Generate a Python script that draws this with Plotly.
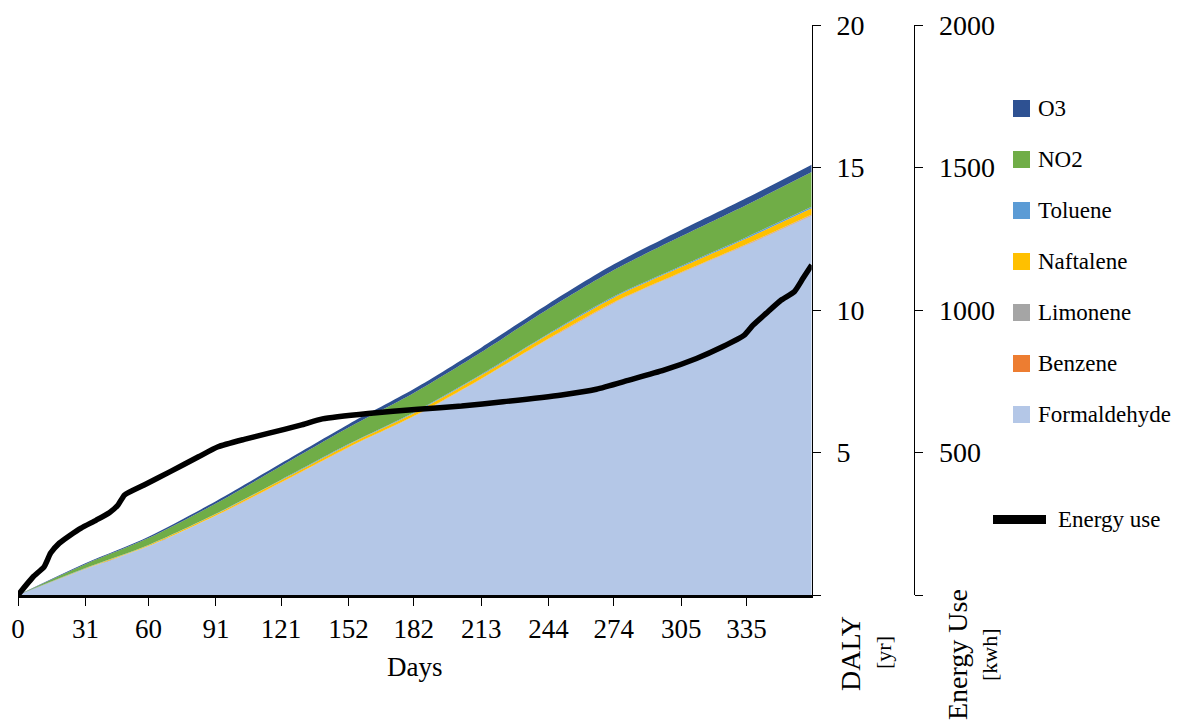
import plotly.graph_objects as go

# ---- data ----
days = [0, 31, 60, 91, 121, 152, 182, 213, 244, 274, 305, 335, 365]
formaldehyde = [0, 0.91, 1.71, 2.78, 3.94, 5.17, 6.26, 7.57, 8.98, 10.25, 11.30, 12.28, 13.32]
benzene = [0, 0.001, 0.002, 0.003, 0.004, 0.005, 0.006, 0.007, 0.008, 0.009, 0.010, 0.011, 0.012]
limonene = [0, 0.002, 0.004, 0.006, 0.008, 0.010, 0.011, 0.012, 0.013, 0.014, 0.015, 0.016, 0.017]
naftalene = [0, 0.02, 0.03, 0.05, 0.07, 0.09, 0.10, 0.12, 0.14, 0.16, 0.18, 0.20, 0.22]
toluene = [0, 0.01, 0.01, 0.01, 0.02, 0.02, 0.03, 0.03, 0.03, 0.04, 0.04, 0.05, 0.05]
no2 = [0, 0.14, 0.24, 0.36, 0.48, 0.58, 0.68, 0.78, 0.87, 0.93, 1.04, 1.13, 1.22]
o3 = [0, 0.03, 0.05, 0.08, 0.10, 0.12, 0.14, 0.16, 0.18, 0.20, 0.22, 0.24, 0.26]

energy_days = [0, 7, 12, 15, 19, 24, 29, 36, 42, 46, 49, 58, 70, 83, 92, 104, 115, 130,
               140, 161, 184, 204, 223, 250, 266, 281, 297, 312, 324, 334, 338, 344,
               351, 357, 361, 365]
energy = [0, 64, 99, 147, 182, 210, 235, 263, 289, 316, 351, 386, 433, 485, 520, 546, 567,
          596, 618, 637, 652, 663, 678, 702, 722, 754, 789, 830, 871, 912, 947, 988,
          1035, 1064, 1111, 1158]

x_ticks = [0, 31, 60, 91, 121, 152, 182, 213, 244, 274, 305, 335]
daly_ticks = [0, 5, 10, 15, 20]
daly_labels = ["", "5", "10", "15", "20"]
energy_ticks = [0, 500, 1000, 1500, 2000]
energy_labels = ["", "500", "1000", "1500", "2000"]

series = [
    ("Formaldehyde", formaldehyde, "#B4C7E7"),
    ("Benzene", benzene, "#ED7D31"),
    ("Limonene", limonene, "#A5A5A5"),
    ("Naftalene", naftalene, "#FFC000"),
    ("Toluene", toluene, "#5B9BD5"),
    ("NO2", no2, "#70AD47"),
    ("O3", o3, "#2E5192"),
]

FONT = "Liberation Serif, Times New Roman, serif"

# ---- layout geometry (pixels) ----
W, H = 1181, 726
ML, MR, MT, MB = 18, 18, 25, 131
PW = W - ML - MR
PH = H - MT - MB


def px_x(p):
    return (p - ML) / PW


def px_y(p):
    return (H - MB - p) / PH


fig = go.Figure()
for name, vals, col in series:
    fig.add_trace(go.Scatter(
        x=days, y=vals, name=name, mode="lines", stackgroup="one",
        line=dict(width=0, color=col, shape="spline", smoothing=0.8),
        fillcolor=col, hoverinfo="x+y+name",
    ))

fig.add_trace(go.Scatter(
    x=energy_days, y=energy, name="Energy use", mode="lines", yaxis="y2",
    line=dict(color="black", width=5.5, shape="spline", smoothing=0.5),
))

x_end = px_x(811.7)
fig.update_layout(
    width=W, height=H,
    margin=dict(l=ML, r=MR, t=MT, b=MB, autoexpand=False),
    paper_bgcolor="white", plot_bgcolor="rgba(0,0,0,0)",
    showlegend=False,
    font=dict(family=FONT, size=27, color="black"),
    xaxis=dict(
        domain=[0, x_end], range=[0, 365], tickvals=x_ticks, automargin=False,
        ticks="outside", ticklen=8, tickwidth=1.3, tickcolor="black",
        showline=True, linecolor="black", linewidth=2.5,
        showgrid=False, zeroline=False,
        tickfont=dict(family=FONT, size=27),
        title=dict(text="Days", font=dict(family=FONT, size=27), standoff=14),
    ),
    yaxis=dict(
        range=[0, 20], side="right", anchor="x", automargin=False,
        tickvals=daly_ticks, ticktext=daly_labels,
        ticks="outside", ticklen=8, tickwidth=1.3, tickcolor="black",
        showline=True, linecolor="black", linewidth=1.3,
        showgrid=False, zeroline=False,
        tickfont=dict(family=FONT, size=28), ticklabelstandoff=10,
    ),
    yaxis2=dict(
        range=[0, 2000], side="right", overlaying="y", anchor="free",
        position=px_x(914.3), automargin=False,
        tickvals=energy_ticks, ticktext=energy_labels,
        ticks="outside", ticklen=8, tickwidth=1.3, tickcolor="black",
        showline=True, linecolor="black", linewidth=1.3,
        showgrid=False, zeroline=False,
        tickfont=dict(family=FONT, size=28), ticklabelstandoff=10,
    ),
)

annotations = [
    dict(text="DALY", x=px_x(850), y=px_y(654), textangle=-90, font=dict(size=28)),
    dict(text="[yr]", x=px_x(883), y=px_y(653), textangle=-90, font=dict(size=22)),
    dict(text="Energy Use", x=px_x(958), y=px_y(655), textangle=-90, font=dict(size=28)),
    dict(text="[kwh]", x=px_x(990), y=px_y(655), textangle=-90, font=dict(size=22)),
]
shapes = []

legend_order = ["O3", "NO2", "Toluene", "Naftalene", "Limonene", "Benzene", "Formaldehyde"]
colors = {n: c for n, _, c in series}
for i, name in enumerate(legend_order):
    cy = 108.5 + 51 * i
    shapes.append(dict(type="rect", xref="paper", yref="paper",
                       x0=px_x(1013), x1=px_x(1030), y0=px_y(cy + 8.5), y1=px_y(cy - 8.5),
                       fillcolor=colors[name], line=dict(width=0)))
    annotations.append(dict(text=name, x=px_x(1036), y=px_y(cy), xanchor="left",
                            yanchor="middle", font=dict(size=23)))

shapes.append(dict(type="line", xref="paper", yref="paper",
                   x0=px_x(993), x1=px_x(1046), y0=px_y(519.5), y1=px_y(519.5),
                   line=dict(color="black", width=9)))
annotations.append(dict(text="Energy use", x=px_x(1056), y=px_y(519.5), xanchor="left",
                        yanchor="middle", font=dict(size=23)))

for a in annotations:
    a.setdefault("xref", "paper")
    a.setdefault("yref", "paper")
    a.setdefault("showarrow", False)
    a.setdefault("xanchor", "center")
    a.setdefault("yanchor", "middle")
    a["font"] = dict(family=FONT, color="black", size=a["font"]["size"])

fig.update_layout(annotations=annotations, shapes=shapes)

fig.write_html(
    "out.html",
    config={"displayModeBar": False},
    post_script="document.body.style.margin='0';document.body.style.overflow='hidden';",
)
